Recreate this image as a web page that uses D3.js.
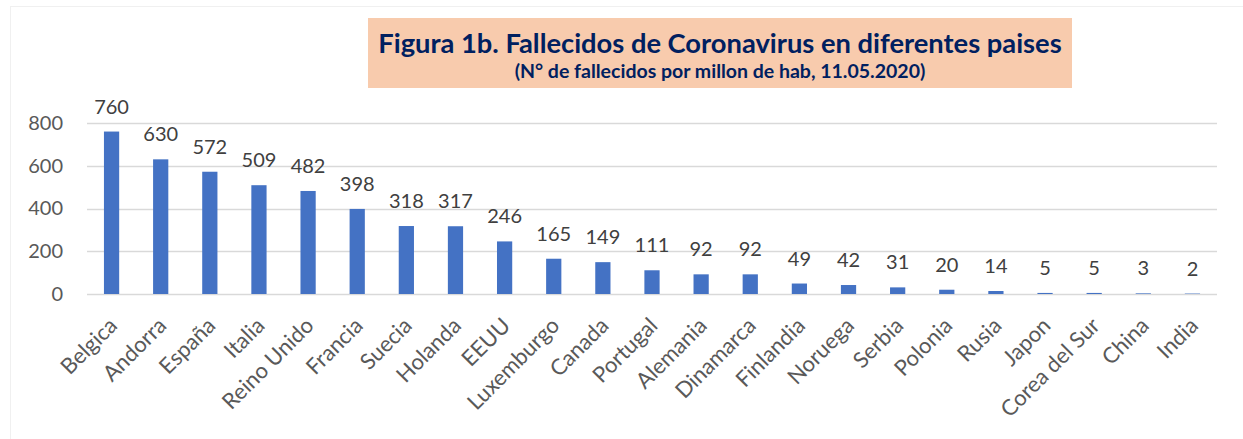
<!DOCTYPE html>
<html>
<head>
<meta charset="utf-8">
<script src="https://cdn.jsdelivr.net/npm/d3@7"></script>
<style>
  body { margin: 0; background: #fff; }
  text { font-family: Lato, "Open Sans", sans-serif; }
</style>
</head>
<body>
<script>
// data
var paises = ['Belgica', 'Andorra', 'España', 'Italia', 'Reino Unido', 'Francia', 'Suecia', 'Holanda', 'EEUU',
    'Luxemburgo', 'Canada', 'Portugal', 'Alemania', 'Dinamarca', 'Finlandia', 'Noruega', 'Serbia', 'Polonia',
    'Rusia', 'Japon', 'Corea del Sur', 'China', 'India'];
var fallecidos = [760, 630, 572, 509, 482, 398, 318, 317, 246, 165, 149, 111, 92, 92, 49, 42, 31, 20, 14, 5, 5, 3, 2];
var yTicks = [0, 200, 400, 600, 800];
var titulo = 'Figura 1b. Fallecidos de Coronavirus en diferentes paises';
var subtitulo = '(N° de fallecidos por millon de hab, 11.05.2020)';

var width = 1243, height = 439;
var margin = { top: 123, right: 26, bottom: 145, left: 87 };

var svg = d3.select('body').append('svg')
    .attr('width', width)
    .attr('height', height);

// faint chart frame
svg.append('rect')
    .attr('x', 10.5).attr('y', 6.5)
    .attr('width', width).attr('height', height)
    .attr('fill', 'none')
    .attr('stroke', '#f0f0f0');

var x = d3.scaleBand()
    .domain(paises)
    .range([margin.left, width - margin.right])
    .paddingInner(0.69)
    .paddingOuter(0.345);

var y = d3.scaleLinear()
    .domain([0, 800])
    .range([height - margin.bottom, margin.top]);

// gridlines
svg.append('g')
    .selectAll('line')
    .data(yTicks)
    .join('line')
    .attr('x1', margin.left)
    .attr('x2', width - margin.right)
    .attr('y1', function (d) { return Math.round(y(d)) + 0.5; })
    .attr('y2', function (d) { return Math.round(y(d)) + 0.5; })
    .attr('stroke', '#d9d9d9')
    .attr('stroke-width', 1.5);

// y axis labels
var yAxis = svg.append('g')
    .attr('transform', 'translate(' + (margin.left - 24) + ',0)')
    .call(d3.axisLeft(y).tickValues(yTicks).tickSize(0).tickPadding(0));
yAxis.select('.domain').remove();
yAxis.selectAll('text')
    .attr('font-size', 20)
    .attr('fill', '#595959')
    .style('font-family', 'Lato, sans-serif');

// bars
svg.append('g')
    .selectAll('rect')
    .data(fallecidos)
    .join('rect')
    .attr('x', function (d, i) { return x(paises[i]); })
    .attr('y', function (d) { return y(d); })
    .attr('width', x.bandwidth())
    .attr('height', function (d) { return y(0) - y(d); })
    .attr('fill', '#4472c4');

// value labels
svg.append('g')
    .selectAll('text')
    .data(fallecidos)
    .join('text')
    .attr('x', function (d, i) { return x(paises[i]) + x.bandwidth() / 2; })
    .attr('y', function (d) { return y(d) - 18; })
    .attr('text-anchor', 'middle')
    .attr('font-size', 20)
    .attr('fill', '#404040')
    .text(function (d) { return d; });

// x axis labels, rotated
var xAxis = svg.append('g')
    .attr('transform', 'translate(0,' + y(0) + ')')
    .call(d3.axisBottom(x).tickSize(0).tickPadding(0));
xAxis.select('.domain').remove();
xAxis.selectAll('text')
    .attr('font-size', 22)
    .attr('fill', '#595959')
    .style('font-family', 'Lato, sans-serif')
    .attr('text-anchor', 'end')
    .attr('dy', 0)
    .attr('transform', 'translate(7,33) rotate(-45)');

// title box
svg.append('rect')
    .attr('x', 368).attr('y', 18)
    .attr('width', 704).attr('height', 70)
    .attr('fill', '#f8cbad');

svg.append('text')
    .attr('x', 720).attr('y', 53)
    .attr('text-anchor', 'middle')
    .attr('font-size', 27.3)
    .attr('font-weight', 'bold')
    .attr('fill', '#002060')
    .text(titulo);

svg.append('text')
    .attr('x', 720).attr('y', 78)
    .attr('text-anchor', 'middle')
    .attr('font-size', 19.5)
    .attr('font-weight', 'bold')
    .attr('fill', '#002060')
    .text(subtitulo);
</script>
</body>
</html>
